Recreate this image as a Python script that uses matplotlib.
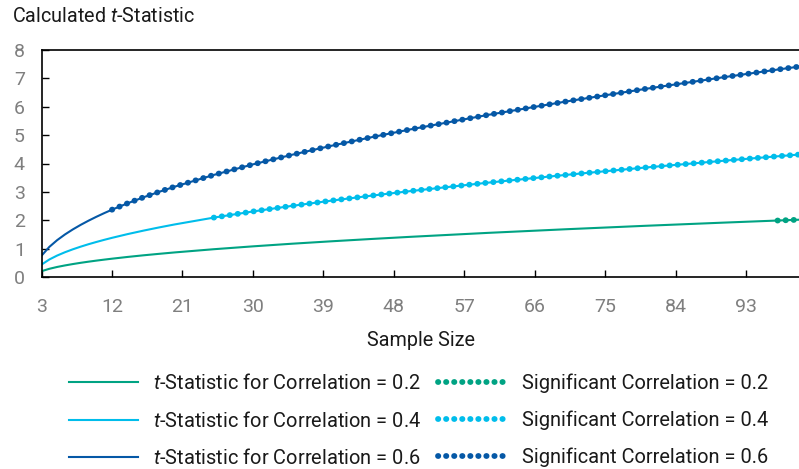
import matplotlib

matplotlib.use("Agg")
import matplotlib.pyplot as plt

plt.rcParams["font.family"] = ["Roboto", "DejaVu Sans"]
plt.rcParams["mathtext.fontset"] = "custom"
plt.rcParams["mathtext.rm"] = "Roboto"
plt.rcParams["mathtext.it"] = "Roboto:italic"

# tamanhos de amostra (subconjunto)
sample_size = [3, 4, 5, 6, 7, 8, 9, 10, 11, 12, 14, 16, 18, 20, 25, 30, 35, 40,
               45, 50, 60, 70, 80, 90, 97, 100]

# t calculado para cada correlacao
t_r02 = [0.204, 0.289, 0.354, 0.408, 0.456, 0.500, 0.540, 0.577, 0.612, 0.645,
         0.707, 0.764, 0.816, 0.866, 0.979, 1.080, 1.173, 1.258, 1.338, 1.414,
         1.555, 1.683, 1.803, 1.915, 1.990, 2.021]
t_r04 = [0.436, 0.617, 0.756, 0.873, 0.976, 1.069, 1.155, 1.234, 1.309, 1.380,
         1.512, 1.633, 1.746, 1.852, 2.093, 2.309, 2.507, 2.690, 2.862, 3.024,
         3.324, 3.599, 3.855, 4.094, 4.254, 4.320]
t_r06 = [0.750, 1.061, 1.299, 1.500, 1.677, 1.837, 1.984, 2.121, 2.250, 2.372,
         2.598, 2.806, 3.000, 3.182, 3.597, 3.969, 4.308, 4.623, 4.918, 5.196,
         5.712, 6.185, 6.624, 7.036, 7.310, 7.424]

correlacoes = ["0.2", "0.4", "0.6"]
significativo_desde = [97, 25, 12]
cores = ["#00a383", "#00bdeb", "#0558a6"]

x_ticks = [3, 12, 21, 30, 39, 48, 57, 66, 75, 84, 93]
y_ticks = [0, 1, 2, 3, 4, 5, 6, 7, 8]

fig = plt.figure(figsize=(7.99, 4.69), dpi=100)
ax = fig.add_axes([41.5 / 799, 1 - 277 / 469, (801 - 41.5) / 799, (277 - 50) / 469])

linhas = []
pontos = []
for serie, rotulo, inicio, cor in zip([t_r02, t_r04, t_r06], correlacoes, significativo_desde, cores):
    (solida,) = ax.plot(sample_size, serie, color=cor, lw=1.5,
                        label=f"$\\it{{t}}$-Statistic for Correlation = {rotulo}")
    xs = [n for n in sample_size if n >= inicio]
    ys = [v for n, v in zip(sample_size, serie) if n >= inicio]
    (pont,) = ax.plot(xs, ys, color=cor, lw=4.2, dashes=(0.05, 1.33),
                      dash_capstyle="round", label=f"Significant Correlation = {rotulo}")
    linhas.append(solida)
    pontos.append(pont)

ax.set_xlim(3, 100)
ax.set_ylim(0, 8)
ax.set_xticks(x_ticks)
ax.set_yticks(y_ticks)
ax.tick_params(axis="both", direction="in", length=5, width=1, colors="black",
               labelcolor="#7f7f7f", labelsize=14)
ax.tick_params(axis="x", pad=15)
ax.tick_params(axis="y", pad=12)
for lado in ax.spines.values():
    lado.set_linewidth(1.2)

ax.set_xlabel("Sample Size", fontsize=14.2, color="#1a1a1a", labelpad=11)
fig.text(12 / 799, 1 - 16 / 469, "Calculated $\\it{t}$-Statistic", fontsize=14.2,
         color="#1a1a1a", va="center", ha="left")

estilo_leg = dict(loc="upper left", frameon=False, fontsize=14.4, handlelength=3.45,
                  handletextpad=0.75, labelspacing=0.88, borderaxespad=0, borderpad=0,
                  labelcolor="#1a1a1a")
fig.legend(handles=linhas, bbox_to_anchor=(69 / 799, 1 - 373 / 469), **estilo_leg)
fig.legend(handles=pontos, bbox_to_anchor=(438 / 799, 1 - 373 / 469), **estilo_leg)

fig.savefig("out.png", dpi=100)
plt.close(fig)
